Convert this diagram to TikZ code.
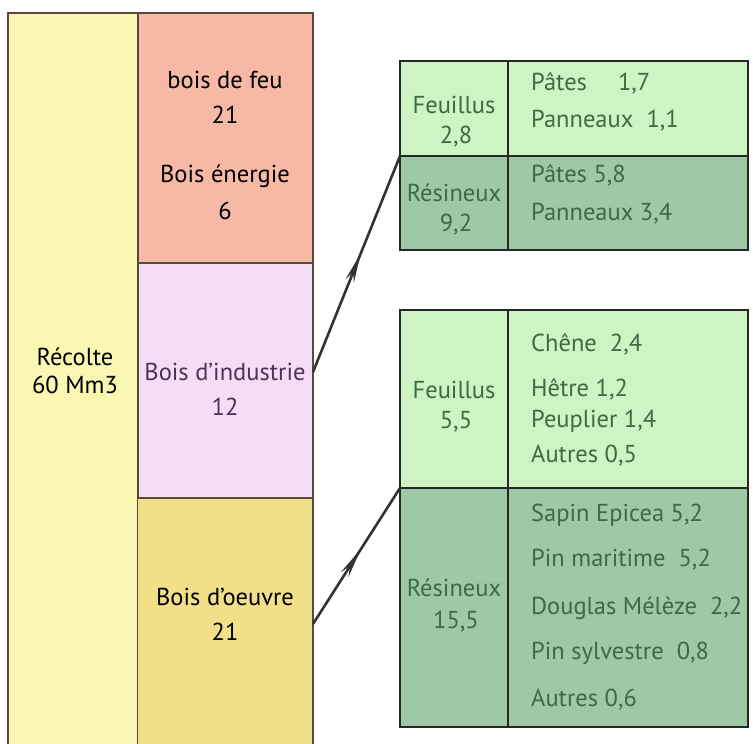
\documentclass[tikz,border=0pt]{standalone}
\usepackage{fontspec}
\setmainfont{PT Sans}
\usetikzlibrary{decorations.markings,arrows.meta}
\definecolor{cRec}{HTML}{F9F7B2}
\definecolor{cFeu}{HTML}{F5B9A6}
\definecolor{cInd}{HTML}{F6DDF7}
\definecolor{cOeu}{HTML}{F2E089}
\definecolor{cLG}{HTML}{CDF4C2}
\definecolor{cDG}{HTML}{9DC9A4}
\definecolor{cTxtG}{HTML}{3D6A45}
\definecolor{cTxtP}{HTML}{4A3550}
\definecolor{cEdge}{HTML}{5A4A3A}
\tikzset{
  blk/.style={draw=cEdge, line width=1.2pt},
  tbl/.style={draw=black!85, line width=1.2pt},
  lab/.style={font=\fontsize{24.5}{28}\selectfont, inner sep=0pt, align=center},
  gl/.style={lab, text=cTxtG},
  gr/.style={lab, text=cTxtG, anchor=west},
  link/.style={draw=black!80, line width=2.6pt,
    postaction={decorate, decoration={markings, mark=at position 0.55 with {\arrow{Stealth[length=30pt,width=9pt]}}}}}
}
\begin{document}
\begin{tikzpicture}[x=1pt,y=-1pt]
\useasboundingbox (0,0) rectangle (753,744);
\fill[white!97!red!2] (0,0) rectangle (753,744);
% left column
\fill[cRec] (8,13) rectangle (138,746);
\draw[blk] (8,746) -- (8,13) -- (138,13) -- (138,746);
% second column
\filldraw[blk, fill=cFeu] (138,13) rectangle (313,263);
\filldraw[blk, fill=cInd] (138,263) rectangle (313,498);
\fill[cOeu] (138,498) rectangle (313,746);
\draw[blk] (138,498) -- (313,498) -- (313,746);
% texts left
\node[lab] (rec) at (75,371) {Récolte\\60 Mm3};
\node[lab] (feu1) at (225,80) {bois de feu};
\node[lab] (feu2) at (225,115) {21};
\node[lab] (en1) at (225,176) {Bois énergie};
\node[lab] (en2) at (225,211) {6};
\node[lab, text=cTxtP] (ind1) at (225,372) {Bois d’industrie};
\node[lab, text=cTxtP] (ind2) at (225,407) {12};
\node[lab] (oeu1) at (225,597) {Bois d’oeuvre};
\node[lab] (oeu2) at (225,632) {21};
\coordinate (indR) at (313,372);
\coordinate (oeuR) at (313,624);
% top table
\fill[cLG] (400,61) rectangle (748,156);
\fill[cDG] (400,156) rectangle (748,250);
\draw[tbl] (400,61) rectangle (748,250);
\draw[tbl] (400,156) -- (748,156);
\draw[tbl] (508,61) -- (508,250);
\coordinate (t1) at (400,156);
\node[gl] (tf1) at (454,105) {Feuillus};
\node[gl] (tf2) at (456,137) {2,8};
\node[gl] (tr1) at (454,193) {Résineux};
\node[gl] (tr2) at (456,225) {9,2};
\node[gr] (tp1) at (531,83) {Pâtes\quad\ 1,7};
\node[gr] (tp2) at (531,121) {Panneaux\ \ 1,1};
\node[gr] (tp3) at (531,175) {Pâtes 5,8};
\node[gr] (tp4) at (531,214) {Panneaux 3,4};
% bottom table
\fill[cLG] (400,310) rectangle (748,488);
\fill[cDG] (400,488) rectangle (748,727);
\draw[tbl] (400,310) rectangle (748,727);
\draw[tbl] (400,488) -- (748,488);
\draw[tbl] (508,310) -- (508,727);
\coordinate (t2) at (400,488);
\node[gl] (bf1) at (454,390) {Feuillus};
\node[gl] (bf2) at (456,422) {5,5};
\node[gl] (br1) at (454,588) {Résineux};
\node[gl] (br2) at (456,622) {15,5};
\node[gr] (b1) at (531,344) {Chêne\ \ 2,4};
\node[gr] (b2) at (531,389) {Hêtre 1,2};
\node[gr] (b3) at (531,421) {Peuplier 1,4};
\node[gr] (b4) at (531,456) {Autres 0,5};
\node[gr] (b5) at (531,515) {Sapin Epicea 5,2};
\node[gr] (b6) at (531,560) {Pin maritime\ \ 5,2};
\node[gr] (b7) at (531,608) {Douglas Mélèze\ \ 2,2};
\node[gr] (b8) at (531,653) {Pin sylvestre\ \ 0,8};
\node[gr] (b9) at (531,700) {Autres 0,6};
% connectors
\draw[link] (indR) -- (t1);
\draw[link] (oeuR) -- (t2);
\end{tikzpicture}
\end{document}
